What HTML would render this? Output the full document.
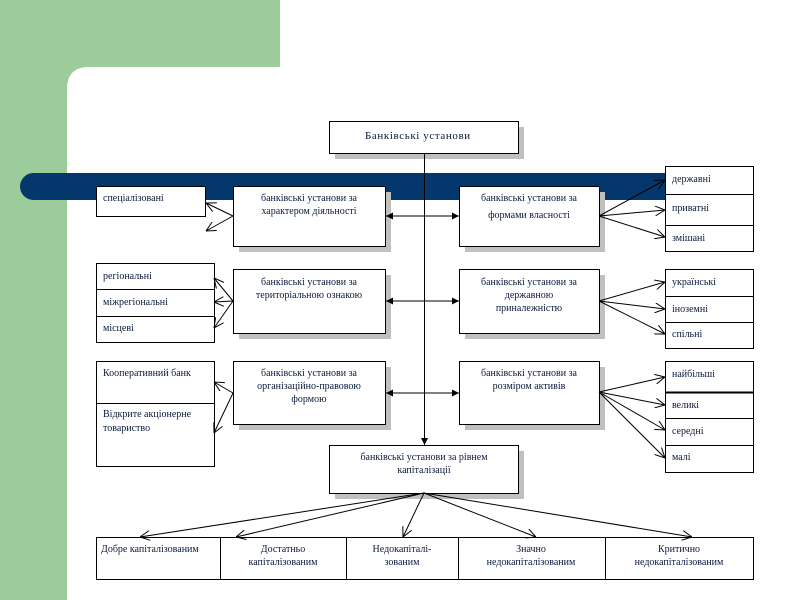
<!DOCTYPE html>
<html><head><meta charset="utf-8"><style>
html,body{margin:0;padding:0;background:#fff;}
svg{display:block;}
text{font-family:"Liberation Serif",serif;font-size:10px;fill:#0a1a3a;}
</style></head><body>
<svg width="800" height="600" viewBox="0 0 800 600" xmlns="http://www.w3.org/2000/svg">
<defs>
<marker id="a" viewBox="0 0 10 10" refX="10" refY="5" markerWidth="10" markerHeight="10" orient="auto-start-reverse" markerUnits="userSpaceOnUse"><path d="M0,0 L10,5 L0,10" fill="none" stroke="#000" stroke-width="1"/></marker>
<marker id="f" viewBox="0 0 10 10" refX="10" refY="5" markerWidth="7" markerHeight="7" orient="auto-start-reverse" markerUnits="userSpaceOnUse"><path d="M0,0 L10,5 L0,10Z" fill="#000"/></marker>
</defs>
<rect x="0" y="0" width="280" height="90" fill="#9ccc9a"/>
<rect x="0" y="0" width="67" height="600" fill="#9ccc9a"/>
<path d="M67,600 V89 Q67,67 89,67 H280 V0 H800 V600 Z" fill="#fff"/>
<rect x="20" y="173" width="660" height="27" rx="13.5" fill="#04376b"/>
<g fill="#c0c0c0">
<rect x="335" y="127" width="189" height="32"/>
<rect x="239" y="192" width="152" height="60"/><rect x="465" y="192" width="140" height="60"/>
<rect x="239" y="275" width="152" height="64"/><rect x="465" y="275" width="140" height="64"/>
<rect x="239" y="367" width="152" height="63"/><rect x="465" y="367" width="140" height="63"/>
<rect x="335" y="451" width="189" height="48"/>
</g>
<g fill="#fff" stroke="#000" stroke-width="1">
<rect x="329.5" y="121.5" width="189" height="32"/>
<rect x="233.5" y="186.5" width="152" height="60"/><rect x="459.5" y="186.5" width="140" height="60"/>
<rect x="233.5" y="269.5" width="152" height="64"/><rect x="459.5" y="269.5" width="140" height="64"/>
<rect x="233.5" y="361.5" width="152" height="63"/><rect x="459.5" y="361.5" width="140" height="63"/>
<rect x="329.5" y="445.5" width="189" height="48"/>
<rect x="96.5" y="186.5" width="109" height="30"/>
<rect x="96.5" y="263.5" width="118" height="79"/>
<rect x="96.5" y="361.5" width="118" height="105"/>
<rect x="665.5" y="166.5" width="88" height="85"/>
<rect x="665.5" y="269.5" width="88" height="79"/>
<rect x="665.5" y="361.5" width="88" height="111"/>
<rect x="96.5" y="537.5" width="657" height="42"/>
</g>
<g stroke="#000" stroke-width="1">
<line x1="96" y1="289.5" x2="214" y2="289.5"/><line x1="96" y1="316.5" x2="214" y2="316.5"/>
<line x1="96" y1="403.5" x2="214" y2="403.5"/>
<line x1="665" y1="194.5" x2="753" y2="194.5"/><line x1="665" y1="225.5" x2="753" y2="225.5"/>
<line x1="665" y1="296.5" x2="753" y2="296.5"/><line x1="665" y1="322.5" x2="753" y2="322.5"/>
<line x1="665" y1="392.5" x2="753" y2="392.5" stroke-width="2"/><line x1="665" y1="418.5" x2="753" y2="418.5"/><line x1="665" y1="445.5" x2="753" y2="445.5"/>
<line x1="220.5" y1="537" x2="220.5" y2="579"/><line x1="346.5" y1="537" x2="346.5" y2="579"/><line x1="458.5" y1="537" x2="458.5" y2="579"/><line x1="605.5" y1="537" x2="605.5" y2="579"/>
<line x1="424.5" y1="153" x2="424.5" y2="445" marker-end="url(#f)"/>
<line x1="386" y1="216" x2="459" y2="216" marker-start="url(#f)" marker-end="url(#f)"/>
<line x1="386" y1="301" x2="459" y2="301" marker-start="url(#f)" marker-end="url(#f)"/>
<line x1="386" y1="393" x2="459" y2="393" marker-start="url(#f)" marker-end="url(#f)"/>
</g>
<g stroke="#000" stroke-width="1" fill="none" marker-end="url(#a)">
<line x1="233" y1="216" x2="206" y2="203"/><line x1="233" y1="216" x2="206" y2="231"/>
<line x1="233" y1="301" x2="214" y2="278"/><line x1="233" y1="301" x2="214" y2="302"/><line x1="233" y1="301" x2="214" y2="328"/>
<line x1="233" y1="393" x2="214" y2="382"/><line x1="233" y1="393" x2="214" y2="433"/>
<line x1="599" y1="216" x2="665" y2="180"/><line x1="599" y1="216" x2="665" y2="210"/><line x1="599" y1="216" x2="665" y2="237"/>
<line x1="599" y1="301" x2="665" y2="282"/><line x1="599" y1="301" x2="665" y2="309"/><line x1="599" y1="301" x2="665" y2="334"/>
<line x1="599" y1="392" x2="665" y2="377"/><line x1="599" y1="392" x2="665" y2="405"/><line x1="599" y1="392" x2="665" y2="430"/><line x1="599" y1="392" x2="665" y2="458"/>
<line x1="424" y1="493" x2="140" y2="537"/><line x1="424" y1="493" x2="236" y2="537"/><line x1="424" y1="493" x2="403" y2="537"/><line x1="424" y1="493" x2="536" y2="537"/><line x1="424" y1="493" x2="692" y2="537"/>
</g>
<text x="365" y="139" style="font-size:11px;letter-spacing:0.6px">Банківські  установи</text>
<g text-anchor="middle">
<text x="309" y="201">банківські установи за</text><text x="309" y="214">характером діяльності</text>
<text x="529" y="201">банківські установи за</text><text x="529" y="218">формами власності</text>
<text x="309" y="285">банківські установи за</text><text x="309" y="298">територіальною ознакою</text>
<text x="529" y="285">банківські установи за</text><text x="529" y="298">державною</text><text x="529" y="311">приналежністю</text>
<text x="309" y="376">банківські установи за</text><text x="309" y="389">організаційно-правовою</text><text x="309" y="402">формою</text>
<text x="529" y="376">банківські установи за</text><text x="529" y="389">розміром активів</text>
<text x="424" y="460">банківські установи за рівнем</text><text x="424" y="473">капіталізації</text>
<text x="283" y="552">Достатньо</text><text x="283" y="565">капіталізованим</text>
<text x="402" y="552">Недокапіталі-</text><text x="402" y="565">зованим</text>
<text x="531" y="552">Значно</text><text x="531" y="565">недокапіталізованим</text>
<text x="679" y="552">Критично</text><text x="679" y="565">недокапіталізованим</text>
</g>
<text x="103" y="201">спеціалізовані</text>
<text x="103" y="279">регіональні</text><text x="103" y="305">міжрегіональні</text><text x="103" y="331">місцеві</text>
<text x="103" y="376">Кооперативний банк</text><text x="103" y="417">Відкрите  акціонерне</text><text x="103" y="431">товариство</text>
<text x="672" y="182">державні</text><text x="672" y="211">приватні</text><text x="672" y="241">змішані</text>
<text x="672" y="285">українські</text><text x="672" y="312">іноземні</text><text x="672" y="337">спільні</text>
<text x="672" y="377">найбільші</text><text x="672" y="408">великі</text><text x="672" y="434">середні</text><text x="672" y="460">малі</text>
<text x="101" y="552">Добре капіталізованим</text>
</svg>
</body></html>
